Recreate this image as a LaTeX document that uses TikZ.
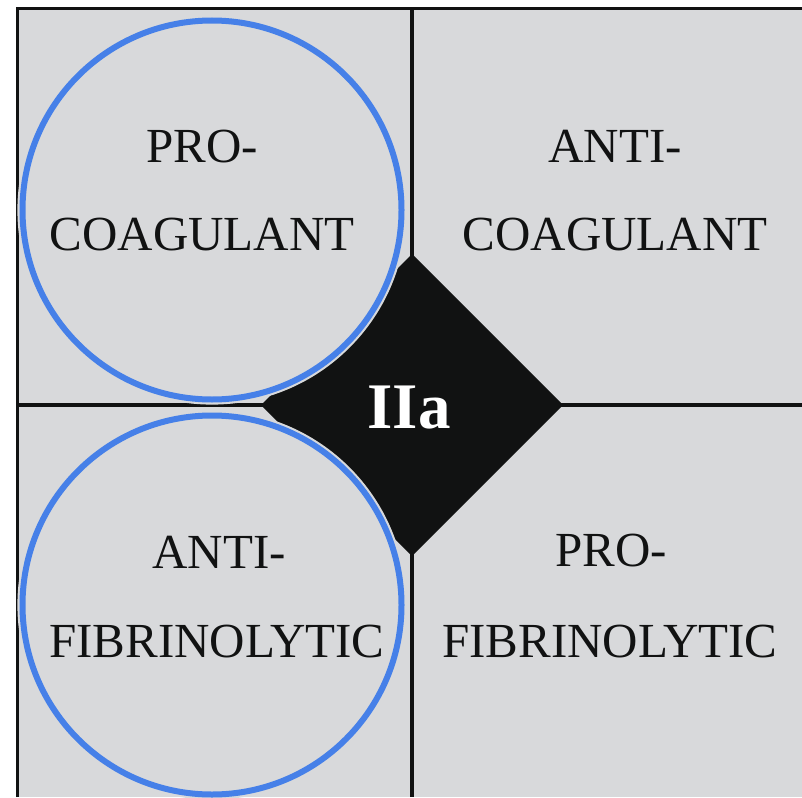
\documentclass[tikz,border=0pt]{standalone}
\usepackage{fontspec}
\setmainfont{Liberation Serif}
\definecolor{panel}{RGB}{216,217,219}
\definecolor{ink}{RGB}{17,18,18}
\definecolor{ring}{RGB}{70,128,232}
\begin{document}
\begin{tikzpicture}[x=1pt,y=-1pt,
  divider/.style={draw=ink,line width=3.2pt},
  zone/.style={circle,minimum size=388pt,inner sep=0pt,fill=panel,draw=panel,line width=1.2pt},
  rim/.style={draw=ring,line width=6pt},
  label/.style={anchor=base,inner sep=0pt,text=ink,font=\fontsize{49}{60}\selectfont},
  core/.style={anchor=base,inner sep=0pt,text=white,font=\bfseries\fontsize{65}{70}\selectfont}]
  \useasboundingbox (0,0) rectangle (802,797);
  % panel background
  \fill[panel] (17.5,8.5) rectangle (802,797);
  % frame and quadrant dividers
  \coordinate (tl) at (17.5,8.5);
  \coordinate (tr) at (802,8.5);
  \coordinate (bl) at (17.5,797);
  \coordinate (mt) at (412,8.5);
  \coordinate (mb) at (412,797);
  \coordinate (ml) at (17.5,405);
  \coordinate (mr) at (802,405);
  \draw[divider] (bl) -- (tl) -- (tr);
  \draw[divider] (mt) -- (mb);
  \draw[divider] (ml) -- (mr);
  % central diamond
  \fill[ink] (412,254) -- (563,405) -- (412,556) -- (261,405) -- cycle;
  % circles over the left quadrants
  \node[zone] (upper) at (212,210) {};
  \node[zone] (lower) at (212,605) {};
  \draw[rim] (upper.center) circle (189.5pt);
  \draw[rim] (lower.center) circle (189.5pt);
  % quadrant labels
  \node[label] (pc1) at (202,162) {PRO-};
  \node[label] (pc2) at (202,250) {COAGULANT};
  \node[label] (ac1) at (615,162) {ANTI-};
  \node[label] (ac2) at (615,250) {COAGULANT};
  \node[label] (af1) at (219,568) {ANTI-};
  \node[label] (af2) at (217,657) {FIBRINOLYTIC};
  \node[label] (pf1) at (611,566) {PRO-};
  \node[label] (pf2) at (610,657) {FIBRINOLYTIC};
  % centre label
  \node[core] (iia) at (409,428) {IIa};
\end{tikzpicture}
\end{document}
